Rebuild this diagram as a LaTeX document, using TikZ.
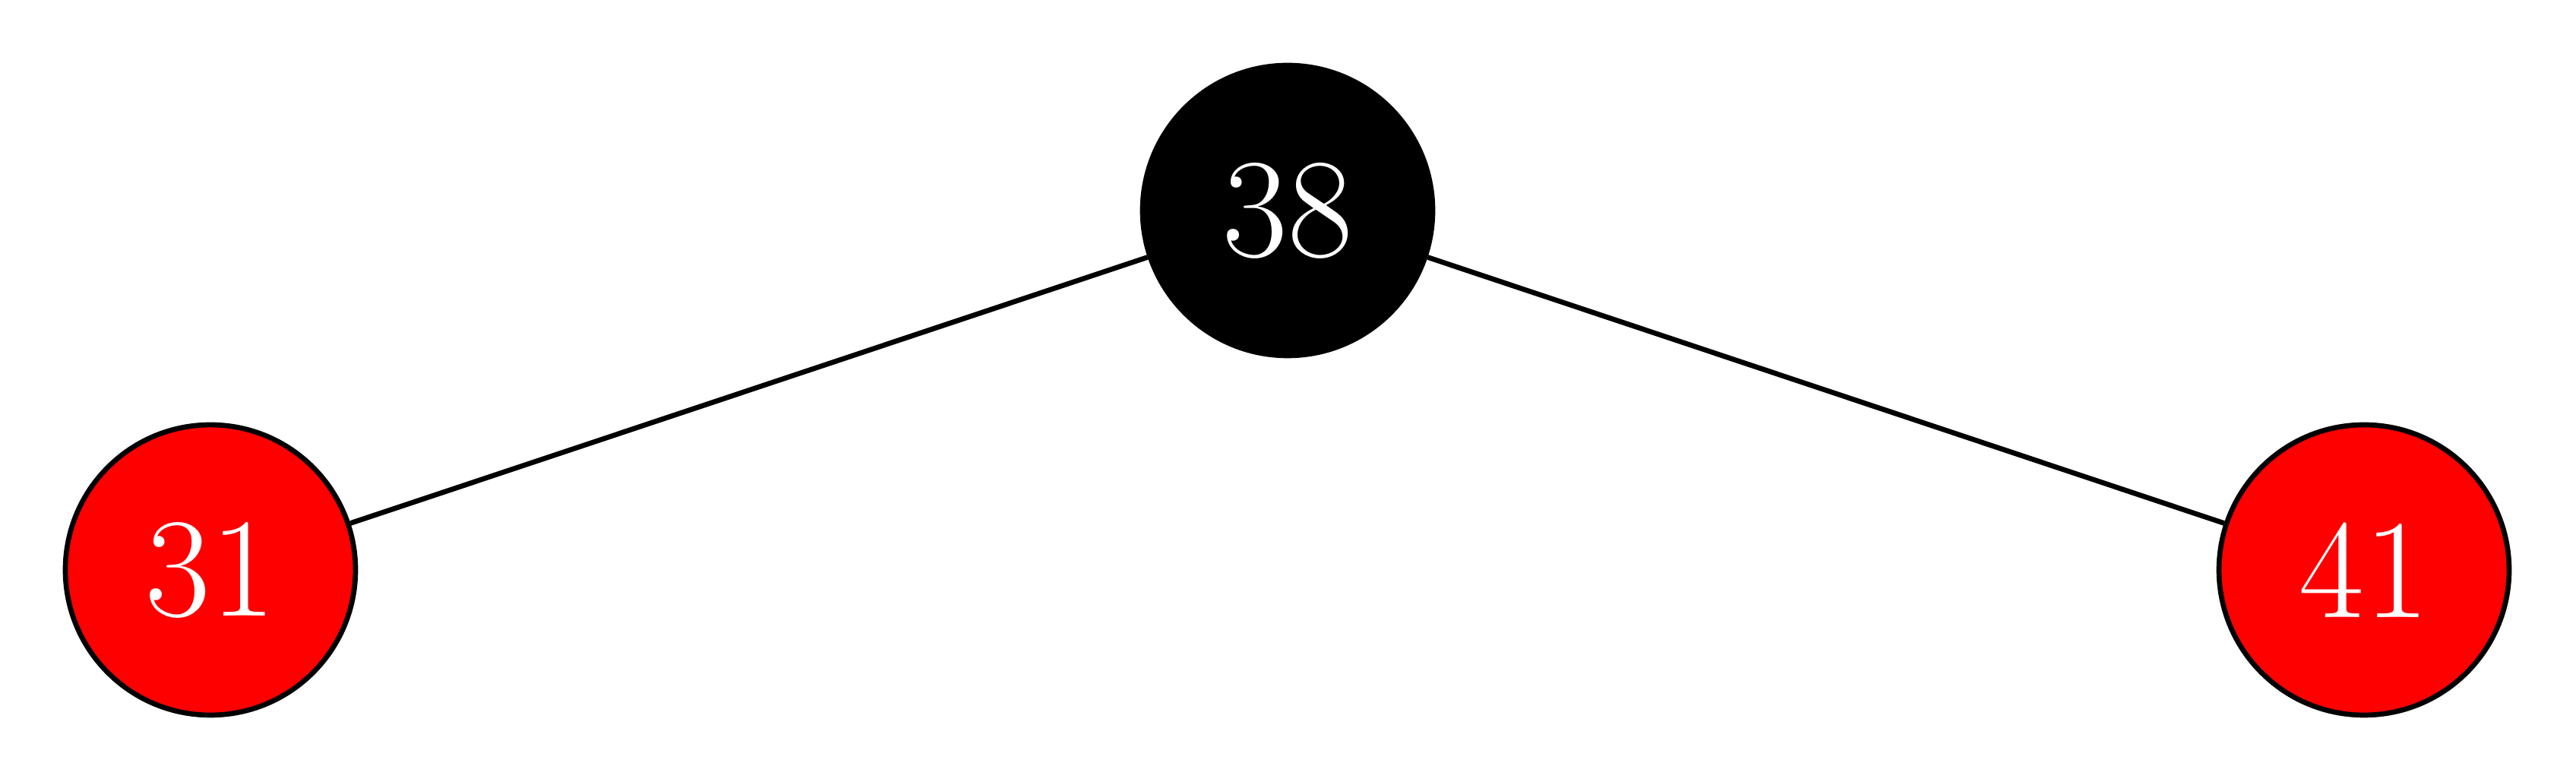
\documentclass[tikz,border=0pt]{standalone}
\usepackage{fontspec}
\begin{document}
\begin{tikzpicture}[
  rbnode/.style={circle, draw=black, line width=1.9pt, minimum size=3.82cm, inner sep=0pt, text=white, font=\fontsize{53}{60}\selectfont},
  rednode/.style={rbnode, fill=red},
  blacknode/.style={rbnode, fill=black},
  edge/.style={line width=1.9pt, draw=black}
]
\useasboundingbox (0,0) rectangle (33.91,10.29);
\node[blacknode] (n38) at (16.95,7.52) {38};
\node[rednode] (n31) at (2.77,2.79) {31};
\node[rednode] (n41) at (31.12,2.79) {41};
\draw[edge] (n38) -- (n31);
\draw[edge] (n38) -- (n41);
\end{tikzpicture}
\end{document}
